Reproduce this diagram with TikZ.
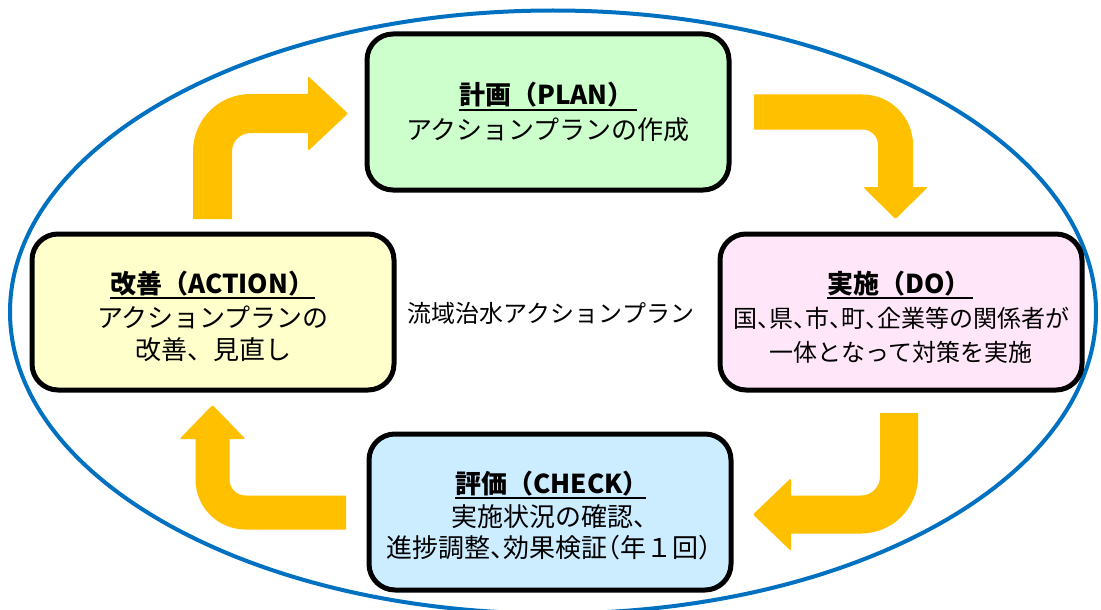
\documentclass[tikz,border=0pt]{standalone}
\usepackage{fontspec}
\newfontfamily\jp{Noto Sans CJK JP}
\newfontfamily\jph[RawFeature=+halt]{Noto Sans CJK JP}
\definecolor{ellc}{HTML}{0070C0}
\definecolor{arrc}{HTML}{FFC000}
\definecolor{planc}{HTML}{CCFFCC}
\definecolor{doc}{HTML}{FFE6F8}
\definecolor{actc}{HTML}{FFFFCC}
\definecolor{chkc}{HTML}{CCECFF}
\begin{document}
\begin{tikzpicture}[x=1pt,y=-1pt,
  pbox/.style={draw=black, line width=5pt, rounded corners=26pt, minimum width=362pt, minimum height=156pt, inner sep=0pt},
  ttl/.style={font={\jp\bfseries\fontsize{26pt}{30pt}\selectfont}, anchor=base west, inner sep=0pt},
  ul/.style={line width=2.2pt},
  body/.style={font={\jp\fontsize{26pt}{30pt}\selectfont}, anchor=base, inner sep=0pt},
  bodyh/.style={font={\jph\fontsize{26pt}{30pt}\selectfont}, anchor=base, inner sep=0pt},
  bodys/.style={font={\jph\fontsize{24pt}{30pt}\selectfont}, anchor=base, inner sep=0pt},
  shaft/.style={draw=arrc, line cap=butt},
  head/.style={fill=arrc, rounded corners=2pt}]
\useasboundingbox (0,0) rectangle (1101,610);
\fill[white] (0,0) rectangle (1101,610);
% ellipse
\draw[ellc, line width=4pt] (553,312) ellipse [x radius=543, y radius=301.5];
% boxes
\node[pbox, fill=planc] (plan) at (548,112) {};
\node[pbox, fill=doc] (do) at (901,312) {};
\node[pbox, fill=actc] (act) at (213,312) {};
\node[pbox, fill=chkc] (chk) at (550,512) {};
% arrows
\draw[shaft, line width=39pt, rounded corners=38pt] (212.5,219) -- (212.5,113.5) -- (310,113.5);
\fill[head] (308,76) -- (348,113.5) -- (308,151) -- cycle;
\draw[shaft, line width=35pt, rounded corners=33pt] (754,112) -- (895.5,112) -- (895.5,189);
\fill[head] (863,187) -- (928,187) -- (895.5,219) -- cycle;
\draw[shaft, line width=38pt, rounded corners=38pt] (899,413) -- (899,514.5) -- (789,514.5);
\fill[head] (791,478) -- (753,514.5) -- (791,551) -- cycle;
\draw[shaft, line width=34pt, rounded corners=33pt] (346,512.5) -- (212.5,512.5) -- (212.5,437);
\fill[head] (179.5,439) -- (212.5,405) -- (245.5,439) -- cycle;
% PLAN
\node[ttl] (plant) at (459,105) {計画（PLAN）};
\draw[ul] (459,110) -- (637,110);
\node[body] (planb) at (548,139.5) {アクションプランの作成};
% DO
\node[ttl] (dot) at (827,293) {実施（DO）};
\draw[ul] (827,298) -- (973,298);
\node[bodys] (dob1) at (901,327) {国、県、市、町、企業等の関係者が};
\node[bodys] (dob2) at (901,361) {一体となって対策を実施};
% ACTION
\node[ttl] (actt) at (110,293) {改善（ACTION）};
\draw[ul] (110,298) -- (315,298);
\node[body] (actb1) at (213,327.5) {アクションプランの};
\node[body] (actb2) at (213,359.5) {改善、見直し};
% CHECK
\node[ttl] (chkt) at (455,493) {評価（CHECK）};
\draw[ul] (455,498) -- (646,498);
\node[body] (chkb1) at (555,526.5) {実施状況の確認、};
\node[bodyh] (chkb2) at (549,557.5) {進捗調整、効果検証（年１回）};
% centre label
\node[body, font={\jp\fontsize{24pt}{30pt}\selectfont}] (lbl) at (551,322) {流域治水アクションプラン};
\end{tikzpicture}
\end{document}
